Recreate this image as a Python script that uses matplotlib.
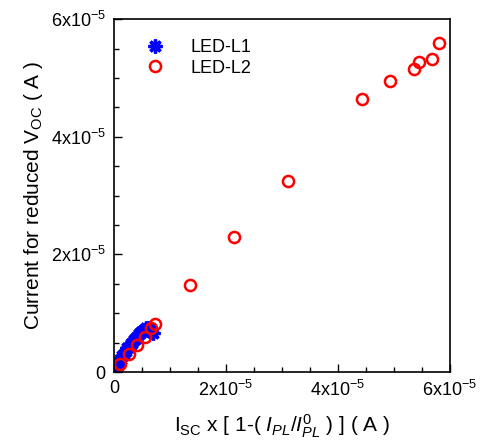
import matplotlib
matplotlib.use("Agg")
import matplotlib.pyplot as plt
from matplotlib.ticker import MultipleLocator, FuncFormatter

plt.rcParams['font.family'] = ['Liberation Sans', 'DejaVu Sans']
plt.rcParams['mathtext.fontset'] = 'custom'
plt.rcParams['mathtext.rm'] = 'Liberation Sans'
plt.rcParams['mathtext.it'] = 'Liberation Sans:italic'
plt.rcParams['axes.unicode_minus'] = False

# LED-L1 (blue asterisks), units of 1e-5 A
l1_x = [0.03, 0.06, 0.09, 0.12, 0.15, 0.18, 0.21, 0.24, 0.27, 0.30, 0.33, 0.36,
        0.39, 0.42, 0.45, 0.48, 0.51, 0.54, 0.57, 0.60, 0.63, 0.66, 0.70]
l1_y = [0.05, 0.12, 0.17, 0.22, 0.27, 0.30, 0.36, 0.40, 0.42, 0.47, 0.50, 0.55,
        0.58, 0.60, 0.65, 0.68, 0.70, 0.72, 0.75, 0.72, 0.74, 0.70, 0.66]

# LED-L2 (red open circles), units of 1e-5 A
l2_x = [0.11, 0.27, 0.41, 0.55, 0.66, 0.73, 1.36, 2.14, 3.11, 4.43, 4.93, 5.36, 5.45, 5.68, 5.80]
l2_y = [0.14, 0.31, 0.46, 0.60, 0.75, 0.82, 1.48, 2.30, 3.25, 4.64, 4.95, 5.15, 5.27, 5.32, 5.59]

fig = plt.figure(figsize=(4.84, 4.45), dpi=100)
ax = fig.add_axes([0.2355, 0.164, 0.694, 0.793])

ax.plot([v * 1e-5 for v in l1_x], [v * 1e-5 for v in l1_y], linestyle='none',
        marker=(8, 2, 0), markersize=10, markeredgewidth=2.4, color='#0000ff',
        label='LED-L1')
ax.plot([v * 1e-5 for v in l2_x], [v * 1e-5 for v in l2_y], linestyle='none',
        marker='o', markersize=8, markeredgewidth=1.8, markeredgecolor='#ff0000',
        markerfacecolor='none', label='LED-L2')

ax.set_xlim(0, 6e-5)
ax.set_ylim(0, 6e-5)


def sci(v, pos):
    if abs(v) < 1e-12:
        return '0'
    return r'$\mathregular{%dx10^{-5}}$' % round(v / 1e-5)


for axis in (ax.xaxis, ax.yaxis):
    axis.set_major_locator(MultipleLocator(2e-5))
    axis.set_minor_locator(MultipleLocator(0.5e-5))
    axis.set_major_formatter(FuncFormatter(sci))

ax.tick_params(which='both', direction='in', top=False, right=False, labelsize=13, width=1)
ax.tick_params(which='major', length=6, pad=6)
ax.tick_params(which='minor', length=3.5)
for s in ax.spines.values():
    s.set_linewidth(1.2)

ax.set_xlabel(r'I$_{\rm SC}$ x [ 1-( $\mathit{I_{PL}/I^{0}_{PL}}$ ) ] ( A )', fontsize=15, labelpad=9)
ax.set_ylabel(r'Current for reduced V$_{\rm OC}$ ( A )', fontsize=15, labelpad=4)

ax.legend(loc='upper left', bbox_to_anchor=(0.04, 0.99), frameon=False, fontsize=13,
          handletextpad=1.4, labelspacing=0.2, handlelength=1.2)

fig.savefig('out.png', dpi=100)
